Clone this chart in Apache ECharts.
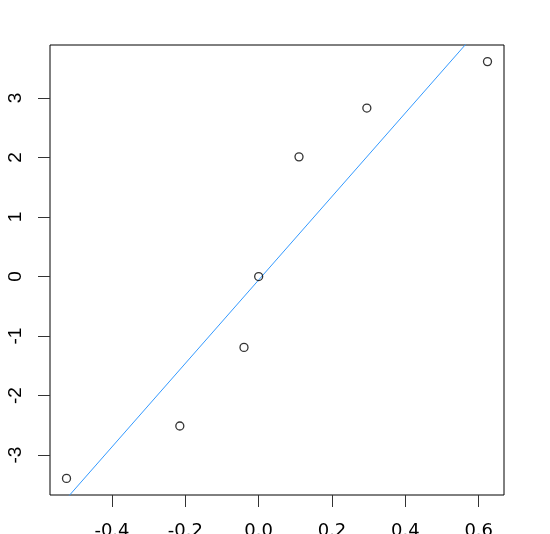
<!DOCTYPE html>
<html>
<head>
<meta charset="utf-8">
<script src="https://cdn.jsdelivr.net/npm/echarts@6/dist/echarts.min.js"></script>
<style>
html, body { margin: 0; padding: 0; background: #fff; }
#chart { width: 550px; height: 534px; }
</style>
</head>
<body>
<div id="chart"></div>
<script>
// points
var xValues = [-0.524, -0.215, -0.040, 0.000, 0.110, 0.295, 0.624];
var yValues = [-3.39, -2.51, -1.19, 0.00, 2.01, 2.83, 3.61];

// fitted line y = a + b x
var lineIntercept = -0.057;
var lineSlope = 7.01;

var xTicks = [-0.4, -0.2, 0.0, 0.2, 0.4, 0.6];
var yTicks = [-3, -2, -1, 0, 1, 2, 3];

var xMin = -0.569, xMax = 0.669;
var yMin = -3.669, yMax = 3.889;

function drawScatter(chart) {
	var pts = [];
	for (var i = 0; i < xValues.length; i++) {
		pts.push([xValues[i], yValues[i]]);
	}
	var linePts = [
		[xMin, lineIntercept + lineSlope * xMin],
		[xMax, lineIntercept + lineSlope * xMax]
	];

	chart.setOption({
		animation : false,
		grid : {
			left : 50,
			top : 45,
			right : 46,
			bottom : 39,
			outerBoundsMode : 'none',
			containLabel : false,
			show : true,
			borderColor : '#000',
			borderWidth : 1,
			backgroundColor : 'transparent'
		},
		xAxis : {
			type : 'value',
			min : xMin,
			max : xMax,
			splitLine : { show : false },
			axisLine : { show : false, onZero : false },
			axisTick : {
				show : true,
				length : 12,
				customValues : xTicks,
				lineStyle : { color : '#333' }
			},
			axisLabel : {
				customValues : xTicks,
				margin : 27,
				fontFamily : 'DejaVu Sans',
				fontSize : 18,
				color : '#000',
				formatter : function (v) { return v.toFixed(1); }
			}
		},
		yAxis : {
			type : 'value',
			min : yMin,
			max : yMax,
			splitLine : { show : false },
			axisLine : { show : false, onZero : false },
			axisTick : {
				show : true,
				length : 12,
				customValues : yTicks,
				lineStyle : { color : '#333' }
			},
			axisLabel : {
				customValues : yTicks,
				rotate : 90,
				margin : 25,
				fontFamily : '"Liberation Sans Narrow", "Liberation Sans"',
				fontSize : 19,
				color : '#000',
				formatter : function (v) { return String(v); }
			}
		},
		series : [ {
			type : 'line',
			data : linePts,
			symbol : 'none',
			clip : true,
			lineStyle : { color : '#3399ff', width : 1 },
			z : 2
		}, {
			type : 'scatter',
			data : pts,
			symbol : 'circle',
			symbolSize : 8,
			itemStyle : {
				color : 'rgba(255,255,255,0)',
				borderColor : '#000',
				borderWidth : 1.3
			},
			z : 3
		} ]
	});
}

var myChart = echarts.init(document.getElementById('chart'));
drawScatter(myChart);
</script>
</body>
</html>
